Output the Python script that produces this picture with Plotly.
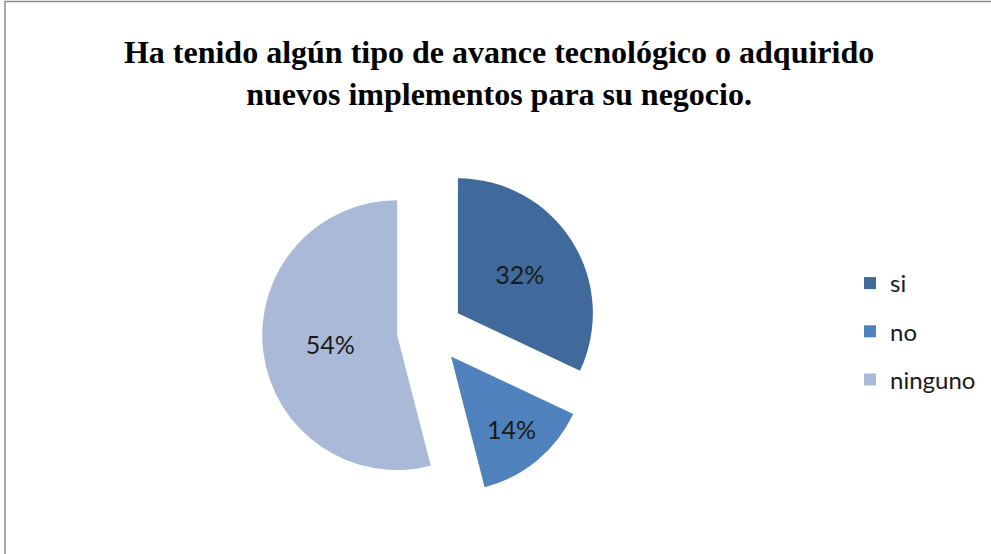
import plotly.graph_objects as go

labels = ["si", "no", "ninguno"]
values = [32, 14, 54]
colors = ["#416A9C", "#4F81BD", "#AAB9D7"]
pulls = [0.245, 0.245, 0.245]
title_lines = ["Ha tenido algún tipo de avance tecnológico o adquirido",
               "nuevos implementos para su negocio."]

W, H = 991, 554

fig = go.Figure()
fig.add_trace(go.Pie(
    labels=labels, values=values, sort=False, direction="clockwise", rotation=0,
    pull=pulls, marker=dict(colors=colors, line=dict(width=0)),
    texttemplate="%{percent:.0%}", textposition="inside", insidetextorientation="horizontal",
    textfont=dict(family="Lato", size=25, color="#1a1a1a"),
    domain=dict(x=[262 / W, 598 / W], y=[55 / H, 391 / H]),
    showlegend=False, hoverinfo="label+percent",
))

# legend proxies (one per category) so entries can be spaced like the original
for lab, col in zip(labels, colors):
    fig.add_trace(go.Scatter(
        x=[None], y=[None], mode="markers", name=lab, legendgroup=lab,
        marker=dict(symbol="square", size=12, color=col),
        showlegend=True,
    ))

fig.update_layout(
    width=W, height=H,
    margin=dict(l=0, r=0, t=0, b=0, autoexpand=False),
    paper_bgcolor="white", plot_bgcolor="white",
    xaxis=dict(visible=False), yaxis=dict(visible=False),
    title=dict(
        text="<br>".join(title_lines),
        font=dict(family="Liberation Serif", size=32, color="black", weight="bold"),
        x=0.5036, xanchor="center", y=1 - 63 / H, yanchor="middle",
    ),
    legend=dict(
        x=850 / W, xanchor="left", y=1 - 261 / H, yanchor="top",
        font=dict(family="Lato", size=24, color="#1a1a1a"),
        tracegroupgap=14, bgcolor="rgba(0,0,0,0)",
    ),
    shapes=[
        dict(type="rect", xref="paper", yref="paper",
             x0=5 / W, x1=1.2, y0=-0.2, y1=1 - 1.5 / H,
             line=dict(color="#8c8c8c", width=1.5), layer="above"),
    ],
)

fig.write_html(
    "out.html",
    config={"displayModeBar": False},
    post_script="document.body.style.margin='0';document.body.style.overflow='hidden';",
)
